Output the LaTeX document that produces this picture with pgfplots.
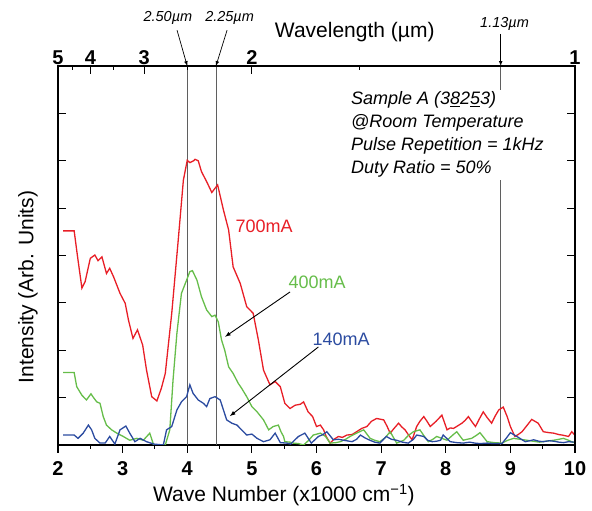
\documentclass[border=0pt]{standalone}
\usepackage{pgfplots}
\pgfplotsset{compat=1.18}
\usepackage{fontspec}
\setmainfont{Liberation Sans}
\definecolor{cred}{RGB}{232,30,38}
\definecolor{cgreen}{RGB}{102,189,74}
\definecolor{cblue}{RGB}{43,75,160}
\definecolor{vgray}{RGB}{95,95,95}
\begin{document}
\begin{tikzpicture}
\pgfplotsset{
  base/.style={
    scale only axis, width=517pt, height=379pt,
    xmin=2, xmax=10, ymin=0, ymax=8,
    axis line style={line width=1.3pt},
    major tick length=8pt, minor tick length=4pt,
    every tick/.style={line width=1.1pt, black},
    /pgf/number format/assume math mode=true,
    ticklabel style={font=\bfseries\fontsize{20}{20}\selectfont},
  }
}
\begin{axis}[base,
  tick align=outside,
  xtick pos=bottom,
  xtick={2,3,...,10},
  minor x tick num=1,
  ytick=\empty,
  xticklabel style={yshift=-5pt},
]
\draw[vgray, line width=0.6pt] (axis cs:4,0) -- (axis cs:4,8);
\draw[vgray, line width=0.6pt] (axis cs:4.444,0) -- (axis cs:4.444,8);
\draw[vgray, line width=0.6pt] (axis cs:8.85,0) -- (axis cs:8.85,8);
\addplot[cred, line width=1.3pt] coordinates {
(2.08,4.52)(2.25,4.52)(2.30,4.0)(2.37,3.31)(2.42,3.45)(2.50,3.94)(2.57,4.01)(2.62,3.89)(2.68,3.97)(2.75,3.62)(2.80,3.73)(2.86,3.55)(2.96,3.2)(3.04,2.99)(3.09,2.64)(3.16,2.25)(3.23,2.43)(3.31,2.11)(3.37,1.58)(3.45,1.02)(3.53,0.93)(3.60,1.2)(3.66,1.51)(3.76,2.78)(3.86,4.32)(3.94,5.59)(4.0,6.01)(4.04,5.96)(4.07,5.98)(4.10,6.0)(4.12,6.03)(4.17,6.0)(4.22,5.77)(4.30,5.56)(4.38,5.33)(4.47,5.49)(4.56,4.96)(4.64,4.54)(4.71,3.76)(4.82,3.41)(4.92,2.92)(5.02,2.78)(5.10,2.22)(5.18,1.58)(5.28,1.27)(5.36,1.34)(5.44,1.23)(5.51,0.88)(5.59,0.77)(5.67,0.84)(5.75,0.86)(5.80,0.91)(5.87,0.70)(5.94,0.60)(6.0,0.39)(6.06,0.42)(6.11,0.32)(6.15,0.18)(6.21,0.04)(6.27,0.12)(6.34,0.18)(6.40,0.16)(6.47,0.21)(6.55,0.22)(6.62,0.28)(6.70,0.35)(6.78,0.39)(6.85,0.50)(6.93,0.56)(7.04,0.53)(7.09,0.40)(7.14,0.25)(7.20,0.35)(7.27,0.46)(7.32,0.38)(7.37,0.32)(7.43,0.20)(7.48,0.11)(7.55,0.39)(7.60,0.50)(7.66,0.60)(7.71,0.50)(7.76,0.39)(7.85,0.50)(7.94,0.63)(8.02,0.32)(8.07,0.36)(8.12,0.35)(8.18,0.40)(8.25,0.46)(8.30,0.52)(8.35,0.60)(8.40,0.50)(8.46,0.39)(8.52,0.55)(8.58,0.70)(8.64,0.58)(8.71,0.46)(8.76,0.60)(8.82,0.74)(8.89,0.80)(8.95,0.60)(9.0,0.39)(9.07,0.18)(9.12,0.22)(9.18,0.28)(9.25,0.40)(9.33,0.54)(9.38,0.50)(9.43,0.46)(9.51,0.28)(9.60,0.26)(9.67,0.25)(9.75,0.22)(9.80,0.21)(9.90,0.18)(9.95,0.28)(9.99,0.22)
};
\addplot[cgreen, line width=1.3pt] coordinates {
(2.08,1.53)(2.25,1.53)(2.29,1.23)(2.37,1.05)(2.44,0.95)(2.51,1.08)(2.55,1.0)(2.6,0.91)(2.65,0.88)(2.70,0.6)(2.75,0.42)(2.83,0.32)(2.91,0.25)(3.01,0.18)(3.11,0.1)(3.22,0.14)(3.32,0.1)(3.42,0.25)(3.48,0.0)(3.66,0.0)(3.73,0.32)(3.78,1.37)(3.84,2.36)(3.91,3.2)(3.99,3.48)(4.04,3.66)(4.08,3.68)(4.15,3.48)(4.22,3.13)(4.30,2.85)(4.38,2.71)(4.43,2.74)(4.48,2.6)(4.53,2.22)(4.58,2.0)(4.64,1.65)(4.71,1.51)(4.79,1.3)(4.84,1.2)(4.92,1.02)(5.0,0.81)(5.08,0.70)(5.18,0.53)(5.26,0.32)(5.33,0.39)(5.41,0.42)(5.45,0.28)(5.49,0.18)(5.51,0.07)(5.59,0.06)(5.64,0.04)(5.72,0.03)(5.80,0.0)(5.88,0.1)(5.95,0.21)(6.06,0.25)(6.14,0.18)(6.21,0.04)(6.30,0.05)(6.37,0.07)(6.45,0.12)(6.52,0.18)(6.62,0.25)(6.73,0.32)(6.83,0.14)(6.90,0.10)(6.98,0.07)(7.06,0.15)(7.14,0.28)(7.24,0.04)(7.35,0.1)(7.42,0.2)(7.5,0.28)(7.6,0.32)(7.66,0.2)(7.73,0.07)(7.80,0.12)(7.86,0.18)(7.94,0.14)(8.02,0.1)(8.10,0.2)(8.17,0.28)(8.27,0.1)(8.33,0.12)(8.4,0.14)(8.47,0.2)(8.53,0.26)(8.64,0.07)(8.75,0.05)(8.87,0.04)(8.96,0.1)(9.05,0.14)(9.15,0.12)(9.26,0.1)(9.35,0.08)(9.45,0.06)(9.55,0.08)(9.67,0.1)(9.75,0.12)(9.82,0.14)(9.90,0.1)(9.98,0.05)
};
\addplot[cblue, line width=1.3pt] coordinates {
(2.08,0.21)(2.25,0.21)(2.31,0.14)(2.39,0.25)(2.47,0.42)(2.52,0.32)(2.57,0.14)(2.65,0.04)(2.73,0.04)(2.80,0.18)(2.88,0.02)(2.96,0.32)(3.05,0.40)(3.11,0.25)(3.19,0.07)(3.27,0.14)(3.37,0.07)(3.48,0.02)(3.63,0.0)(3.68,0.32)(3.76,0.39)(3.84,0.74)(3.91,0.91)(3.99,1.02)(4.04,1.27)(4.09,1.09)(4.17,0.95)(4.25,0.88)(4.30,0.81)(4.35,0.98)(4.43,1.02)(4.51,0.95)(4.56,0.74)(4.61,0.53)(4.69,0.46)(4.77,0.42)(4.84,0.32)(4.92,0.21)(5.0,0.23)(5.08,0.14)(5.18,0.07)(5.28,0.11)(5.36,0.25)(5.44,0.05)(5.54,0.04)(5.60,0.02)(5.66,0.10)(5.72,0.18)(5.82,0.25)(5.92,0.04)(6.03,0.18)(6.10,0.22)(6.16,0.28)(6.26,0.11)(6.34,0.12)(6.42,0.1)(6.55,0.07)(6.62,0.12)(6.68,0.21)(6.75,0.15)(6.81,0.11)(6.90,0.06)(6.98,0.04)(7.08,0.18)(7.16,0.12)(7.24,0.10)(7.33,0.06)(7.42,0.04)(7.50,0.12)(7.55,0.21)(7.66,0.18)(7.72,0.1)(7.79,0.07)(7.86,0.08)(7.92,0.10)(7.96,0.21)(8.07,0.07)(8.17,0.05)(8.27,0.04)(8.37,0.06)(8.45,0.04)(8.53,0.03)(8.64,0.04)(8.74,0.03)(8.87,0.03)(8.94,0.15)(9.0,0.26)(9.10,0.18)(9.17,0.12)(9.23,0.07)(9.30,0.09)(9.36,0.11)(9.44,0.08)(9.51,0.07)(9.60,0.09)(9.67,0.08)(9.75,0.06)(9.82,0.05)(9.90,0.07)(9.98,0.06)
};
\coordinate (bl) at (rel axis cs:0,0);
\coordinate (tr) at (rel axis cs:1,1);
\end{axis}
\begin{axis}[base,
  clip=false,
  tick align=inside,
  axis x line*=top,
  axis y line*=box,
  xtick={2,2.5,3.3333,5,10},
  xticklabels={5,4,3,2,1},
  minor xtick={2.2222,2.8571,4,6.6667},
  xticklabel style={inner sep=1pt},
  ytick={1,...,7},
  ytick pos=both,
  yticklabels={},
]
\node[font=\fontsize{21}{21}\selectfont, anchor=base] at (rel axis cs:0.437,-0.150) {Wave Number (x1000 cm\textsuperscript{−1})};
\node[font=\fontsize{21}{21}\selectfont, rotate=90, anchor=center] at (rel axis cs:-0.058,0.417) {Intensity (Arb. Units)};
\node[font=\fontsize{21}{21}\selectfont, anchor=base] at (rel axis cs:0.574,1.074) {Wavelength (µm)};
\node[fill=white, anchor=north west, align=left, inner sep=2pt, font=\itshape\fontsize{18}{23}\selectfont] at (axis cs:6.50,7.50) {Sample A (3\underline{8}2\underline{5}3)\\@Room Temperature\\Pulse Repetition = 1kHz\\Duty Ratio = 50\%};
\node[font=\itshape\fontsize{14.5}{14.5}\selectfont] at (axis cs:3.70,9.01) {2.50µm};
\node[font=\itshape\fontsize{14.5}{14.5}\selectfont] at (axis cs:4.655,9.01) {2.25µm};
\node[font=\itshape\fontsize{14.5}{14.5}\selectfont] at (axis cs:8.91,8.88) {1.13µm};
\draw[-latex, line width=0.7pt] (axis cs:3.842,8.755) -- (axis cs:4,8);
\draw[-latex, line width=0.7pt] (axis cs:4.616,8.755) -- (axis cs:4.444,8);
\draw[-latex, line width=0.7pt] (axis cs:8.85,8.68) -- (axis cs:8.85,8);
\node[cred, font=\fontsize{18}{18}\selectfont] at (axis cs:5.19,4.62) {700mA};
\node[cgreen, font=\fontsize{18}{18}\selectfont] at (axis cs:6.01,3.44) {400mA};
\node[cblue, font=\fontsize{18}{18}\selectfont] at (axis cs:6.38,2.24) {140mA};
\draw[-latex, line width=0.9pt] (axis cs:5.59,3.23) -- (axis cs:4.585,2.285);
\draw[-latex, line width=0.9pt] (axis cs:6.03,2.07) -- (axis cs:4.66,0.61);
\end{axis}
\pgfresetboundingbox
\path[use as bounding box] ([shift={(-58pt,-66pt)}]bl) rectangle ([shift={(17pt,66pt)}]tr);
\end{tikzpicture}
\end{document}
